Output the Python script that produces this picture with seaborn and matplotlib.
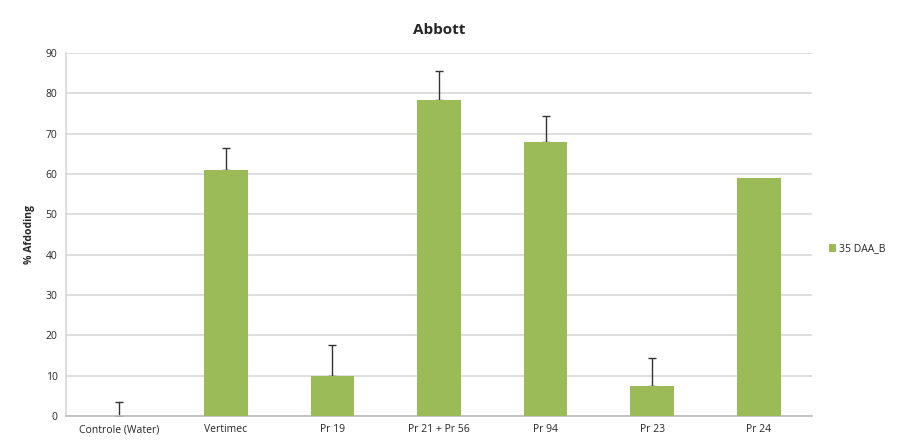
import numpy as np
import pandas as pd
import matplotlib.pyplot as plt
import seaborn as sns

categories = ['Controle (Water)', 'Vertimec', 'Pr 19', 'Pr 21 + Pr 56', 'Pr 94', 'Pr 23', 'Pr 24']
values = [0, 61, 10, 78.5, 68, 7.5, 59]
err_up = [3.5, 5.5, 7.5, 7, 6.5, 7, 0]
series_name = '35 DAA_B'

GREEN = '#9BBB59'
GRID = '#D9D9D9'
TEXT = '#262626'

sns.set_theme(style='white')
plt.rcParams['font.family'] = ['Open Sans', 'DejaVu Sans']

df = pd.DataFrame({'cat': categories, 'val': values, 'err': err_up})

fig = plt.figure(figsize=(9.2, 4.43), dpi=100)
ax = fig.add_axes([0.0717, 0.061, 0.8109, 0.819])

sns.barplot(data=df, x='cat', y='val', color=GREEN, saturation=1, width=0.41,
            errorbar=None, label=series_name, ax=ax, zorder=3,
            linewidth=0, edgecolor=GREEN)

# one-sided error bars (upper only), skipped where there is no error
x = np.arange(len(categories))
has_err = df['err'].to_numpy() > 0
ax.errorbar(x[has_err], df['val'][has_err],
            yerr=[np.zeros(has_err.sum()), df['err'][has_err]], fmt='none',
            ecolor='#333333', elinewidth=1, capsize=3, capthick=1, zorder=2)

ax.set_ylim(0, 90)
ax.set_yticks(range(0, 91, 10))
ax.set_xlim(-0.5, len(categories) - 0.5)
ax.yaxis.grid(True, color=GRID, linewidth=1.2, zorder=0)
ax.set_axisbelow(True)

ax.set_xlabel('')
ax.set_ylabel('% Afdoding', fontsize=7.5, fontweight='bold', color=TEXT, labelpad=8)
ax.set_title('Abbott', fontsize=11, fontweight='bold', color=TEXT, pad=14)
ax.tick_params(axis='both', labelsize=7.5, colors=TEXT, length=0, pad=6)

for s in ['top', 'right']:
    ax.spines[s].set_visible(False)
ax.spines['left'].set_color(GRID)
ax.spines['bottom'].set_color('#BFBFBF')

# small tick marks between categories
ax.set_xticks(np.arange(-0.5, len(categories)), minor=True)
ax.tick_params(axis='x', which='minor', length=3, color='#BFBFBF', direction='in')

ax.legend(loc='center left', bbox_to_anchor=(1.01, 0.46), frameon=False,
          fontsize=7.5, handlelength=0.7, handleheight=0.7, handletextpad=0.3)

fig.savefig('out.png', dpi=100)
